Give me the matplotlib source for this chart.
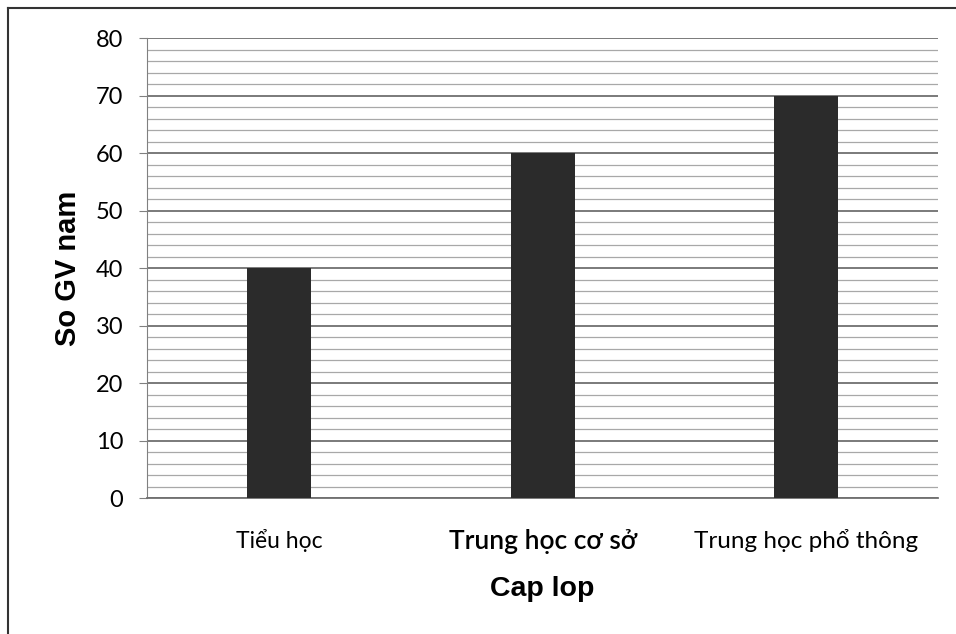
import matplotlib.pyplot as plt
from matplotlib.ticker import MultipleLocator
from matplotlib.lines import Line2D
import numpy as np

# Dữ liệu
cap_lop = ['Tiểu học', 'Trung học cơ sở', 'Trung học phổ thông']
so_gv_nam = [40, 60, 70]

fig = plt.figure(figsize=(9.56, 6.34), dpi=100)
ax = fig.add_axes([0.1538, 0.2145, 0.8275, 0.7255])

x = np.arange(len(cap_lop))
ax.bar(x, so_gv_nam, width=0.243, color='#2b2b2b', zorder=3)

ax.set_xlim(-0.5, len(cap_lop) - 0.5)
ax.set_ylim(0, 80)
ax.yaxis.set_major_locator(MultipleLocator(10))
ax.yaxis.set_minor_locator(MultipleLocator(2))

ax.grid(which='major', axis='y', color='#707070', linewidth=1.3, zorder=0)
ax.grid(which='minor', axis='y', color='#a8a8a8', linewidth=0.9, zorder=0)

for s in ['top', 'right']:
    ax.spines[s].set_visible(False)
ax.spines['left'].set_color('#808080')
ax.spines['bottom'].set_color('#707070')
ax.spines['bottom'].set_linewidth(1.3)

ax.tick_params(axis='y', which='major', length=6, color='#808080', pad=11,
               labelsize=17)
ax.tick_params(axis='y', which='minor', length=0)
ax.tick_params(axis='x', length=0, pad=22)
for lbl in ax.get_yticklabels():
    lbl.set_fontfamily('Lato')

ax.set_xticks(x)
ax.set_xticklabels(cap_lop)
kieu = [(16.5, 'normal'), (19, 'semibold'), (17.5, 'normal')]
for lbl, (sz, w) in zip(ax.get_xticklabels(), kieu):
    lbl.set_fontfamily('Lato')
    lbl.set_fontsize(sz)
    lbl.set_fontweight(w)

ax.set_ylabel('So GV nam', fontsize=21, weight='bold', family='Liberation Sans',
              labelpad=10)
ax.set_xlabel('Cap lop', fontsize=20.5, weight='bold', family='Liberation Sans',
              labelpad=16)

# Khung viền ngoài (trái và trên)
fig.add_artist(Line2D([8/956, 8/956], [0, 1 - 8/634], color='#333333', lw=1.5,
                      transform=fig.transFigure))
fig.add_artist(Line2D([8/956, 1], [1 - 8/634, 1 - 8/634], color='#333333', lw=1.5,
                      transform=fig.transFigure))

plt.savefig('out.png', dpi=100)
